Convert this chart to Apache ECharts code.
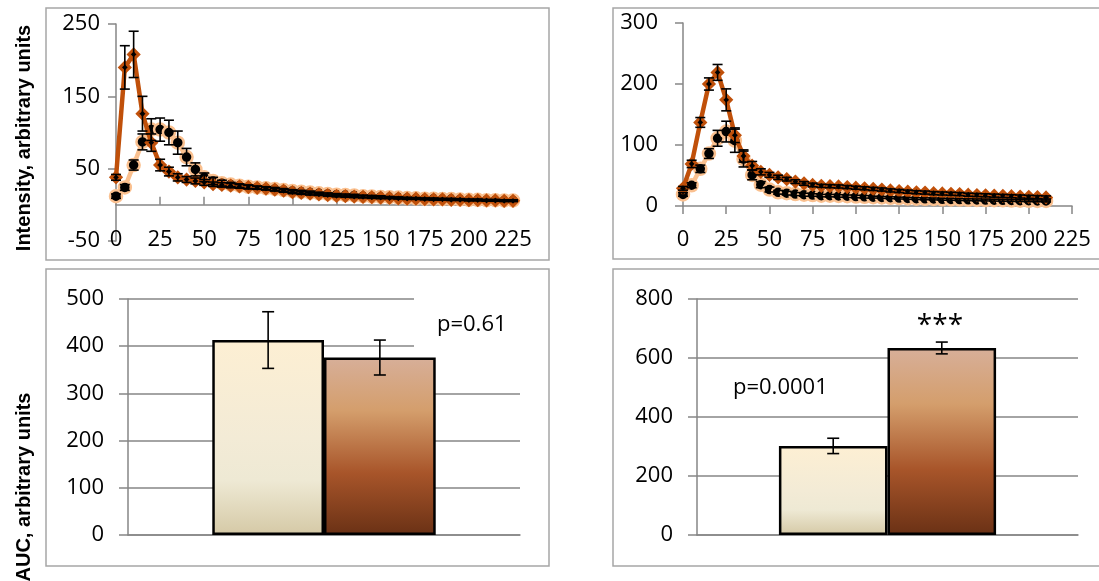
<!DOCTYPE html>
<html>
<head>
<meta charset="utf-8">
<script src="https://cdn.jsdelivr.net/npm/echarts@6/dist/echarts.min.js"></script>
<style>
  html, body { margin: 0; padding: 0; background: #fff; }
  #chart { width: 1099px; height: 581px; }
</style>
</head>
<body>
<div id="chart"></div>
<script>
// ---- data ----
// left time course (s)
var timeL = [0,5,10,15,20,25,30,35,40,45,50,55,60,65,70,75,80,85,90,95,100,105,110,115,120,125,130,135,140,145,150,155,160,165,170,175,180,185,190,195,200,205,210,215,220,225];
var lightL = [12,24,55,87,104,104,100,86,66,49,38,33,30,28,26.5,25,24,23,22,20.5,19,18,17,16,15,14,13.5,13,12,11.5,11,10.5,10,9.5,9,8.5,8.5,8,8,7.5,7,7,6.5,6.5,6,6];
var lightLErr = [3,4,7,11,15,16,17,16,12,9,6,5,4,3,2.5,2.5,2,2,2,2,2,2,2,1.5,1.5,1.5,1.5,1.5,1.5,1.5,1.5,1,1,1,1,1,1,1,1,1,1,1,1,1,1,1];
var darkL = [38,190,208,126,86,55,46,38,35,33,31,28.5,27.5,26.5,25.5,24.5,23.5,22.5,21,19.5,17.5,16.5,15.5,14.5,13.5,12.5,12,11.5,11,10.5,10,9.5,9,8.5,8.5,8,7.5,7.5,7,7,6.5,6.5,6,6,5.5,5.5];
var darkLErr = [4,30,32,24,12,8,6,5,4,4,4,3,3,3,2.5,2.5,2,2,2,2,2,2,2,1.5,1.5,1.5,1.5,1.5,1.5,1.5,1.5,1,1,1,1,1,1,1,1,1,1,1,1,1,1,1];

// right time course (s)
var timeR = [0,5,10,15,20,25,30,35,40,45,50,55,60,65,70,75,80,85,90,95,100,105,110,115,120,125,130,135,140,145,150,155,160,165,170,175,180,185,190,195,200,205,210];
var lightR = [19,34,61,86,111,122,107,77,51,35,27,22.5,21,19.5,18.5,18,17,17,16.5,16,15.5,15,14.5,14,13.5,13,12.5,12,11.8,11.5,11,10.8,10.5,10.2,10,9.8,9.5,9.3,9,8.8,8.6,8.4,8.2];
var lightRErr = [3,4,6,8,13,17,19,13,8,5,4,3,3,2.5,2.5,2,2,2,2,2,2,2,1.5,1.5,1.5,1.5,1.5,1.5,1.5,1.5,1.5,1.5,1.5,1.5,1.5,1.5,1.5,1.5,1.5,1.5,1.5,1.5,1.5];
var darkR = [29,69,137,200,219,174,116,82,66,56,51,47,44,40,37,34.5,33,32.5,32,31,30,29,28,27,25.5,24.5,23.5,22.5,22,21,20.5,20,19.5,18.5,18,17.5,17,16.5,16,15.5,15,14.5,14];
var darkRErr = [3,6,8,10,13,18,12,10,7,5,4,3.5,3,3,3,3,2.5,2.5,2.5,2.5,2.5,2.5,2.5,2.5,2.5,2.5,2.5,2.5,2.5,2.5,2.5,2.5,2.5,2.5,2.5,2.5,2.5,2.5,2.5,2.5,2.5,2.5,2.5];

// AUC bars: [light, dark]
var aucL = [413, 376];
var aucLErr = [60, 37];
var aucR = [302, 634];
var aucRErr = [26, 20];

// ---- styles ----
var FONT = '"Open Sans", "Noto Sans", sans-serif';
var AXIS = '#868686';
var LIGHT = '#FAC08F';
var DARK = '#C0500A';
var FS = 22;

function zip3(xs, ys, es) {
  return xs.map(function (x, i) { return [x, ys[i], es[i]]; });
}
function zip2(xs, ys) {
  return xs.map(function (x, i) { return [x, ys[i]]; });
}

// vertical error bar with caps
function errItem(cap, shift) {
  return function (params, api) {
    var x = api.value(0), y = api.value(1), e = api.value(2);
    var hi = api.coord([x, y + e]);
    var lo = api.coord([x, y - e]);
    var dx = shift ? shift(api) : 0;
    var cx = hi[0] + dx;
    var st = { stroke: '#000', lineWidth: 1.6 };
    return {
      type: 'group',
      children: [
        { type: 'line', shape: { x1: cx, y1: hi[1], x2: cx, y2: lo[1] }, style: st },
        { type: 'line', shape: { x1: cx - cap, y1: hi[1], x2: cx + cap, y2: hi[1] }, style: st },
        { type: 'line', shape: { x1: cx - cap, y1: lo[1], x2: cx + cap, y2: lo[1] }, style: st }
      ]
    };
  };
}

var GAP = 0.43; // barCategoryGap
function barShift(sign) {
  return function (api) {
    var cw = api.size([1, 0])[0];
    return sign * cw * (1 - GAP) / 4;
  };
}

function valueY(gridIndex, min, max, interval, margin) {
  return {
    type: 'value', gridIndex: gridIndex, min: min, max: max, interval: interval,
    axisLine: { show: true, lineStyle: { color: AXIS, width: 1.5 } },
    axisTick: { show: true, length: 8, lineStyle: { color: AXIS, width: 1.5 } },
    axisLabel: { margin: margin, color: '#000', fontSize: FS, fontFamily: FONT },
    splitLine: { show: false }
  };
}

function timeX(gridIndex, opts) {
  var base = {
    type: 'value', gridIndex: gridIndex, min: 0, max: 225, interval: 25,
    axisLine: { show: true, onZero: true, lineStyle: { color: AXIS, width: 1.5 } },
    axisTick: { show: true, length: 8, lineStyle: { color: AXIS, width: 1.5 } },
    axisLabel: { show: true, margin: 23, color: '#000', fontSize: FS, fontFamily: FONT },
    splitLine: { show: false }
  };
  return Object.assign(base, opts || {});
}

function lineSeries(name, xi, yi, data, light) {
  return {
    name: name, type: 'line', xAxisIndex: xi, yAxisIndex: yi,
    data: data, z: light ? 3 : 4,
    lineStyle: { color: light ? LIGHT : DARK, width: light ? 4.5 : 4.5 },
    symbol: light ? 'circle' : 'diamond',
    symbolSize: light ? 12 : 10,
    itemStyle: light
      ? { color: '#000', borderColor: LIGHT, borderWidth: 2.5 }
      : { color: '#000', borderColor: DARK, borderWidth: 3 }
  };
}

function errSeries(xi, yi, data, cap, shift) {
  return {
    type: 'custom', xAxisIndex: xi, yAxisIndex: yi, z: 6,
    renderItem: errItem(cap, shift),
    encode: { x: 0, y: 1 },
    data: data
  };
}

var creamGrad = new echarts.graphic.LinearGradient(0, 0, 0, 1, [
  { offset: 0, color: '#FDEFD3' },
  { offset: 0.5, color: '#F3EBD6' },
  { offset: 0.72, color: '#EEE9D4' },
  { offset: 1, color: '#D5C9A6' }
]);
var brownGrad = new echarts.graphic.LinearGradient(0, 0, 0, 1, [
  { offset: 0, color: '#D7AF99' },
  { offset: 0.3, color: '#D49E6C' },
  { offset: 0.65, color: '#A8552A' },
  { offset: 1, color: '#6A3115' }
]);

function barY(gridIndex, max, interval) {
  return {
    type: 'value', gridIndex: gridIndex, min: 0, max: max, interval: interval,
    axisLine: { show: true, lineStyle: { color: AXIS, width: 1.5 } },
    axisTick: { show: true, length: 9, lineStyle: { color: AXIS, width: 1.5 } },
    axisLabel: { margin: 24, color: '#000', fontSize: FS, fontFamily: FONT },
    splitLine: { show: true, lineStyle: { color: AXIS, width: 1.5 } }
  };
}
function barX(gridIndex) {
  return {
    type: 'category', gridIndex: gridIndex, data: ['AUC'],
    axisLine: { show: true, lineStyle: { color: AXIS, width: 1.5 } },
    axisTick: { show: false }, axisLabel: { show: false }
  };
}
function bar(xi, yi, v, grad) {
  return {
    type: 'bar', xAxisIndex: xi, yAxisIndex: yi, data: [v],
    barGap: 0, barCategoryGap: (GAP * 100) + '%',
    itemStyle: { color: grad, borderColor: '#000', borderWidth: 2.5 }
  };
}

var chart = echarts.init(document.getElementById('chart'));
chart.setOption({
  animation: false,
  backgroundColor: '#fff',
  grid: [
    { left: 116, top: 24, width: 397, height: 217 },
    { left: 683, top: 23, width: 389, height: 183 },
    { left: 128, top: 299, width: 392, height: 236 },
    { left: 697, top: 299, width: 381, height: 236 }
  ],
  xAxis: [
    // 0: left labels at the bottom
    timeX(0, { axisLine: { show: false, onZero: false }, axisTick: { show: false },
               axisLabel: { margin: -12, color: '#000', fontSize: FS, fontFamily: FONT } }),
    // 1: left axis line through zero
    timeX(0, { axisLabel: { show: false } }),
    // 2: right
    timeX(1),
    barX(2),
    barX(3)
  ],
  yAxis: [
    valueY(0, -50, 250, 100, 16),
    valueY(1, 0, 300, 100, 25),
    barY(2, 500, 100),
    barY(3, 800, 200)
  ],
  series: [
    lineSeries('light', 1, 0, zip2(timeL, lightL), true),
    lineSeries('dark', 1, 0, zip2(timeL, darkL), false),
    errSeries(1, 0, zip3(timeL, lightL, lightLErr), 5),
    errSeries(1, 0, zip3(timeL, darkL, darkLErr), 5),

    lineSeries('light', 2, 1, zip2(timeR, lightR), true),
    lineSeries('dark', 2, 1, zip2(timeR, darkR), false),
    errSeries(2, 1, zip3(timeR, lightR, lightRErr), 5),
    errSeries(2, 1, zip3(timeR, darkR, darkRErr), 5),

    bar(3, 2, aucL[0], creamGrad),
    bar(3, 2, aucL[1], brownGrad),
    errSeries(3, 2, [[0, aucL[0], aucLErr[0]]], 6, barShift(-1)),
    errSeries(3, 2, [[0, aucL[1], aucLErr[1]]], 6, barShift(1)),

    bar(4, 3, aucR[0], creamGrad),
    bar(4, 3, aucR[1], brownGrad),
    errSeries(4, 3, [[0, aucR[0], aucRErr[0]]], 6, barShift(-1)),
    errSeries(4, 3, [[0, aucR[1], aucRErr[1]]], 6, barShift(1))
  ],
  graphic: [
    { type: 'rect', shape: { x: 46, y: 8, width: 503, height: 252 }, style: { fill: null, stroke: '#A6A6A6', lineWidth: 1.5 }, z: 0 },
    { type: 'rect', shape: { x: 613, y: 8, width: 500, height: 251 }, style: { fill: null, stroke: '#A6A6A6', lineWidth: 1.5 }, z: 0 },
    { type: 'rect', shape: { x: 46, y: 269, width: 503, height: 297 }, style: { fill: null, stroke: '#A6A6A6', lineWidth: 1.5 }, z: 0 },
    { type: 'rect', shape: { x: 613, y: 269, width: 500, height: 297 }, style: { fill: null, stroke: '#A6A6A6', lineWidth: 1.5 }, z: 0 },
    // text box hiding part of the grid lines
    { type: 'rect', shape: { x: 414, y: 290, width: 108, height: 62 }, style: { fill: '#fff' }, z: 50 },
    { type: 'text', x: 437, y: 325, z: 51, style: { text: 'p=0.61', fill: '#000', font: '22px ' + FONT, textVerticalAlign: 'middle' } },
    { type: 'text', x: 733, y: 388, z: 51, style: { text: 'p=0.0001', fill: '#000', font: '22px ' + FONT, textVerticalAlign: 'middle' } },
    { type: 'text', x: 940, y: 326, z: 51, style: { text: '***', fill: '#000', font: '28px ' + FONT, textAlign: 'center', textVerticalAlign: 'middle' } },
    { type: 'text', x: 24, y: 138, rotation: Math.PI / 2, z: 51,
      style: { text: 'Intensity, arbitrary units', fill: '#000', font: 'bold 20px "Liberation Sans", Arial, sans-serif', textAlign: 'center', textVerticalAlign: 'middle' } },
    { type: 'text', x: 24, y: 487, rotation: Math.PI / 2, z: 51,
      style: { text: 'AUC, arbitrary units', fill: '#000', font: 'bold 20px "Liberation Sans", Arial, sans-serif', textAlign: 'center', textVerticalAlign: 'middle' } }
  ]
});
</script>
</body>
</html>
